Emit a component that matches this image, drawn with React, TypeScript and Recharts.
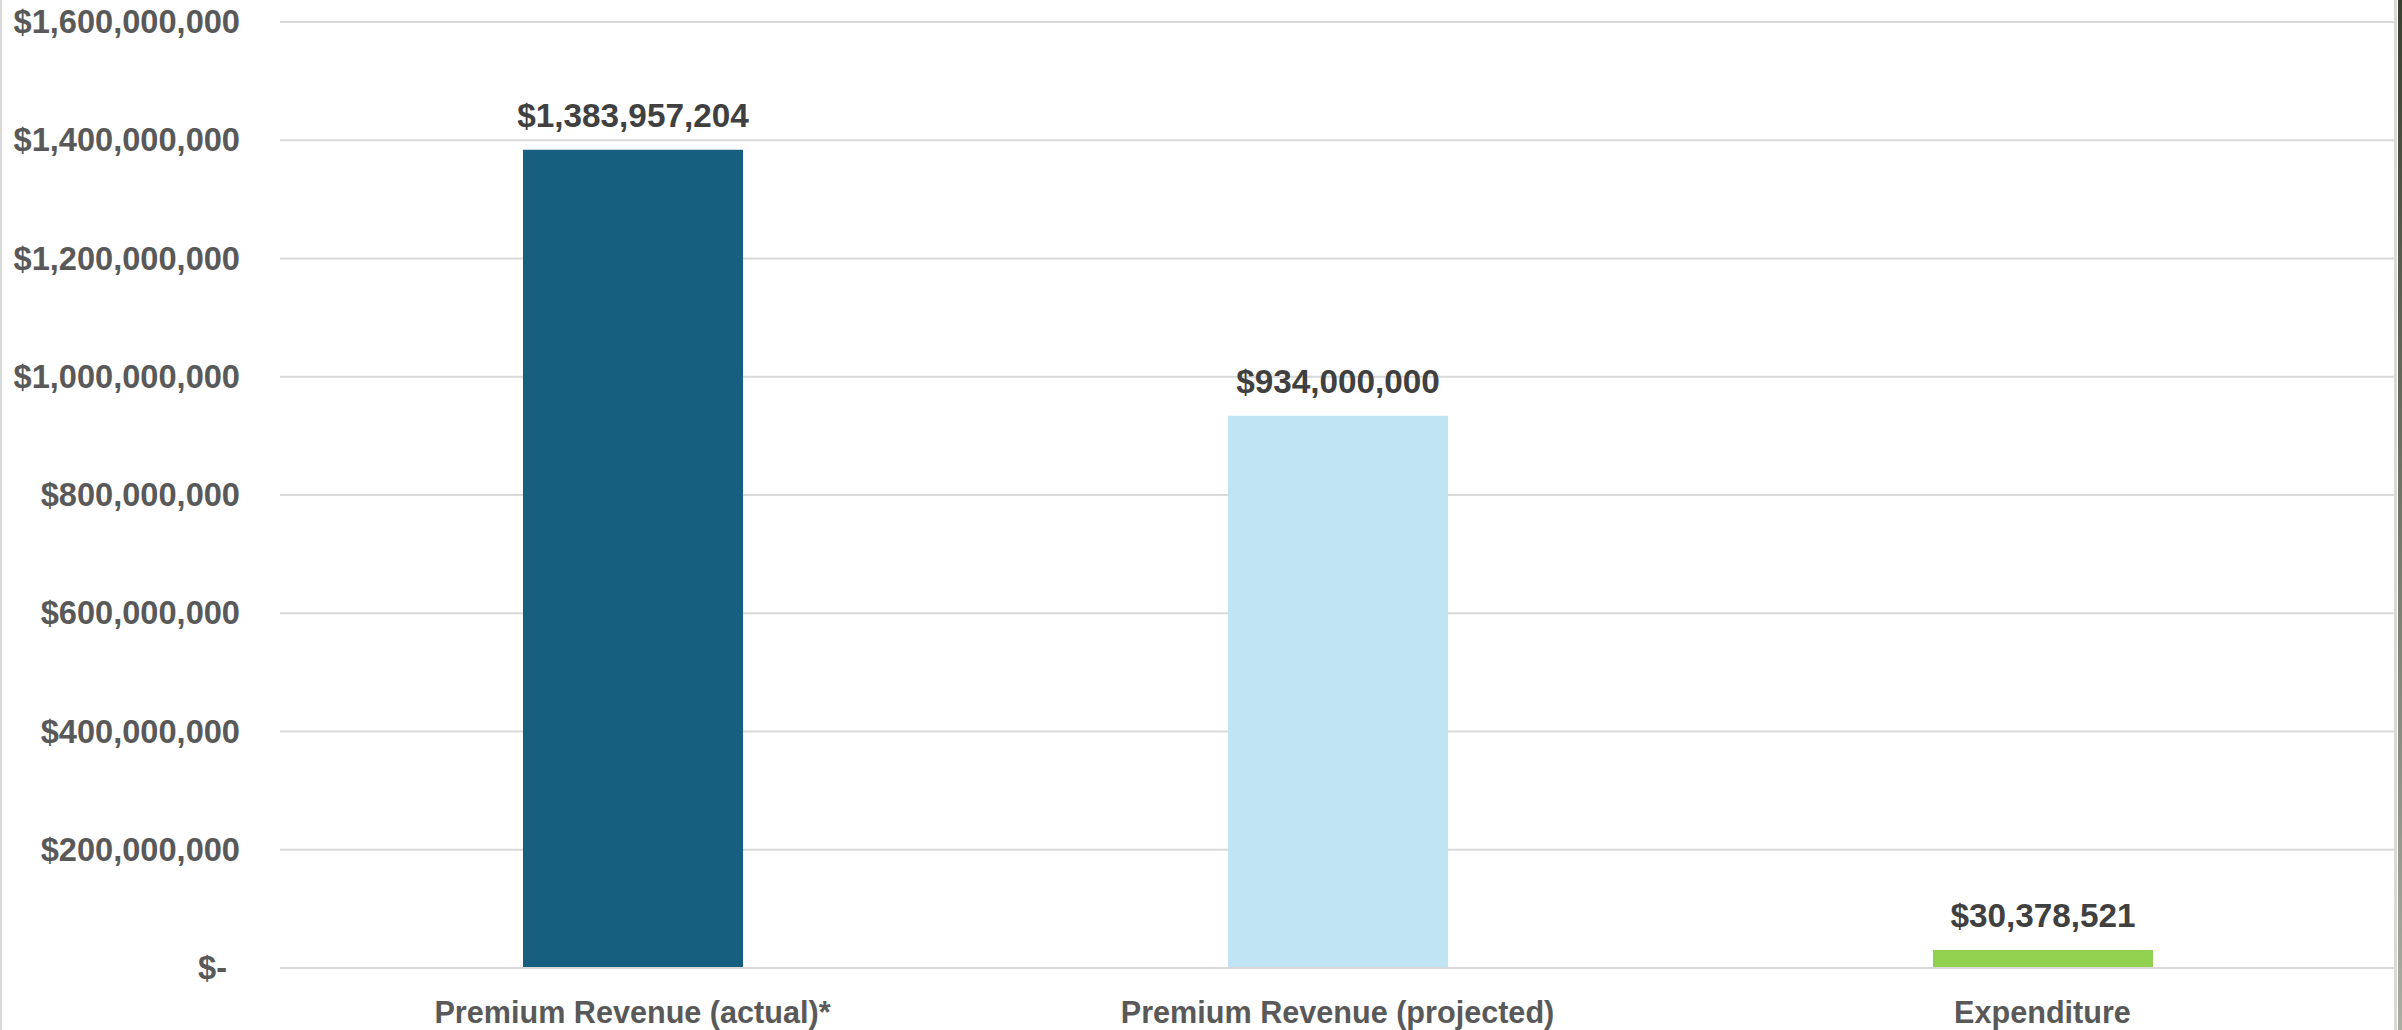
import { BarChart, Bar, XAxis, YAxis, CartesianGrid, Cell, LabelList } from "recharts";

const categories = ["Premium Revenue (actual)*", "Premium Revenue (projected)", "Expenditure"];
const amounts = [1383957204, 934000000, 30378521];
const barColors = ["#175f7f", "#c1e4f4", "#92d050"];
const yTicks = [0, 200000000, 400000000, 600000000, 800000000, 1000000000, 1200000000, 1400000000, 1600000000];

const data = categories.map((name, i) => ({ name, value: amounts[i] }));

const FONT = '"Liberation Sans", Arial, sans-serif';
const money = (v: number) => (v === 0 ? "$-" : "$" + v.toLocaleString("en-US"));

function YTick(props: any) {
  const { x, y, payload } = props;
  const isZero = payload.value === 0;
  return (
    <text
      x={x}
      y={y}
      dx={isZero ? -13 : 0}
      dy={11}
      textAnchor="end"
      fontFamily={FONT}
      fontWeight="bold"
      fontSize={32.6}
      fill="#595959"
    >
      {money(payload.value)}
    </text>
  );
}

export default function App() {
  return (
    <div
      style={{
        position: "fixed",
        left: 0,
        top: 0,
        width: 2402,
        height: 1030,
        background: "#fff",
        overflow: "hidden",
      }}
    >
      <BarChart
        width={2402}
        height={1030}
        data={data}
        margin={{ top: 22, right: 7, bottom: 0, left: 0 }}
      >
        <CartesianGrid vertical={false} stroke="#d9d9d9" strokeWidth={2} />
        <XAxis
          dataKey="name"
          height={62}
          tickSize={0}
          tickMargin={33}
          axisLine={{ stroke: "#d9d9d9", strokeWidth: 2 }}
          tickLine={false}
          tick={{ fontFamily: FONT, fontWeight: "bold", fontSize: 30.6, fill: "#595959" }}
        />
        <YAxis
          width={280}
          domain={[0, 1600000000]}
          ticks={yTicks}
          tickSize={0}
          tickMargin={40}
          axisLine={false}
          tickLine={false}
          tick={<YTick />}
        />
        <Bar dataKey="value" barSize={220} isAnimationActive={false}>
          {data.map((_, i) => (
            <Cell key={`cell-${i}`} fill={barColors[i]} />
          ))}
          <LabelList
            dataKey="value"
            position="top"
            offset={23}
            formatter={(v: any) => money(Number(v))}
            style={{ fontFamily: FONT, fontWeight: "bold", fontSize: 33.3, fill: "#404040" }}
          />
        </Bar>
      </BarChart>
      {/* frame edges */}
      <div style={{ position: "absolute", left: 0, top: 0, width: 2, height: 1030, background: "#d9d9d9" }} />
      <div style={{ position: "absolute", left: 2394, top: 0, width: 3, height: 1030, background: "#d9d9d9" }} />
      <div
        style={{
          position: "absolute",
          left: 2398,
          top: 0,
          width: 4,
          height: 1030,
          background: "linear-gradient(#3a4030, #a9ada2)",
        }}
      />
    </div>
  );
}
